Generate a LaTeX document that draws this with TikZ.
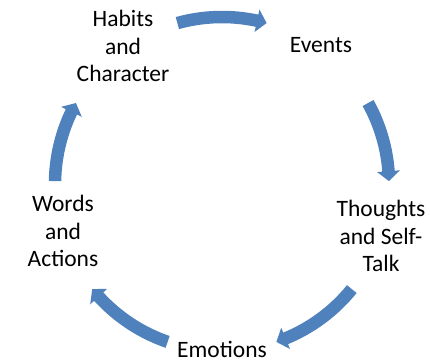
\documentclass[tikz,border=0pt]{standalone}
\usepackage{fontspec}
\setmainfont{Carlito}
\definecolor{arrowblue}{RGB}{79,129,189}
\tikzset{
  cyclearrow/.style={fill=arrowblue, draw=none},
  label/.style={font=\fontsize{23.5}{27.5}\selectfont, align=center, inner sep=0pt, anchor=base, text=black}
}
\begin{document}
\begin{tikzpicture}[x=1pt,y=1pt]
\useasboundingbox (0,0) rectangle (430,363);
% labels (last-line baselines)
\node[label] (habits)   at (123,281) {Habits\\and\\Character};
\node[label] (events)   at (321,310) {Events};
\node[label] (thoughts) at (381,91)  {Thoughts\\and Self-\\Talk};
\node[label] (emotions) at (222,5)   {Emotions};
\node[label] (words)    at (63,96)   {Words\\and\\Actions};
% circular block arrows
\begin{scope}[shift={(222,179)}]
\foreach \a/\b in {-15.5/15.5, 61/89, 129/161, 199/231, 271/299}{
  \pgfmathsetmacro\ts{90-\a}
  \pgfmathsetmacro\te{90-\b}
  \pgfmathsetmacro\th{\te+3.4}
  \fill[cyclearrow] (\ts:173.25) arc[start angle=\ts, end angle=\th, radius=173.25]
    -- (\th:178.5) -- (\te:167) -- (\th:155.5) -- (\th:160.75)
    arc[start angle=\th, end angle=\ts, radius=160.75] -- cycle;
}
\end{scope}
\end{tikzpicture}
\end{document}
